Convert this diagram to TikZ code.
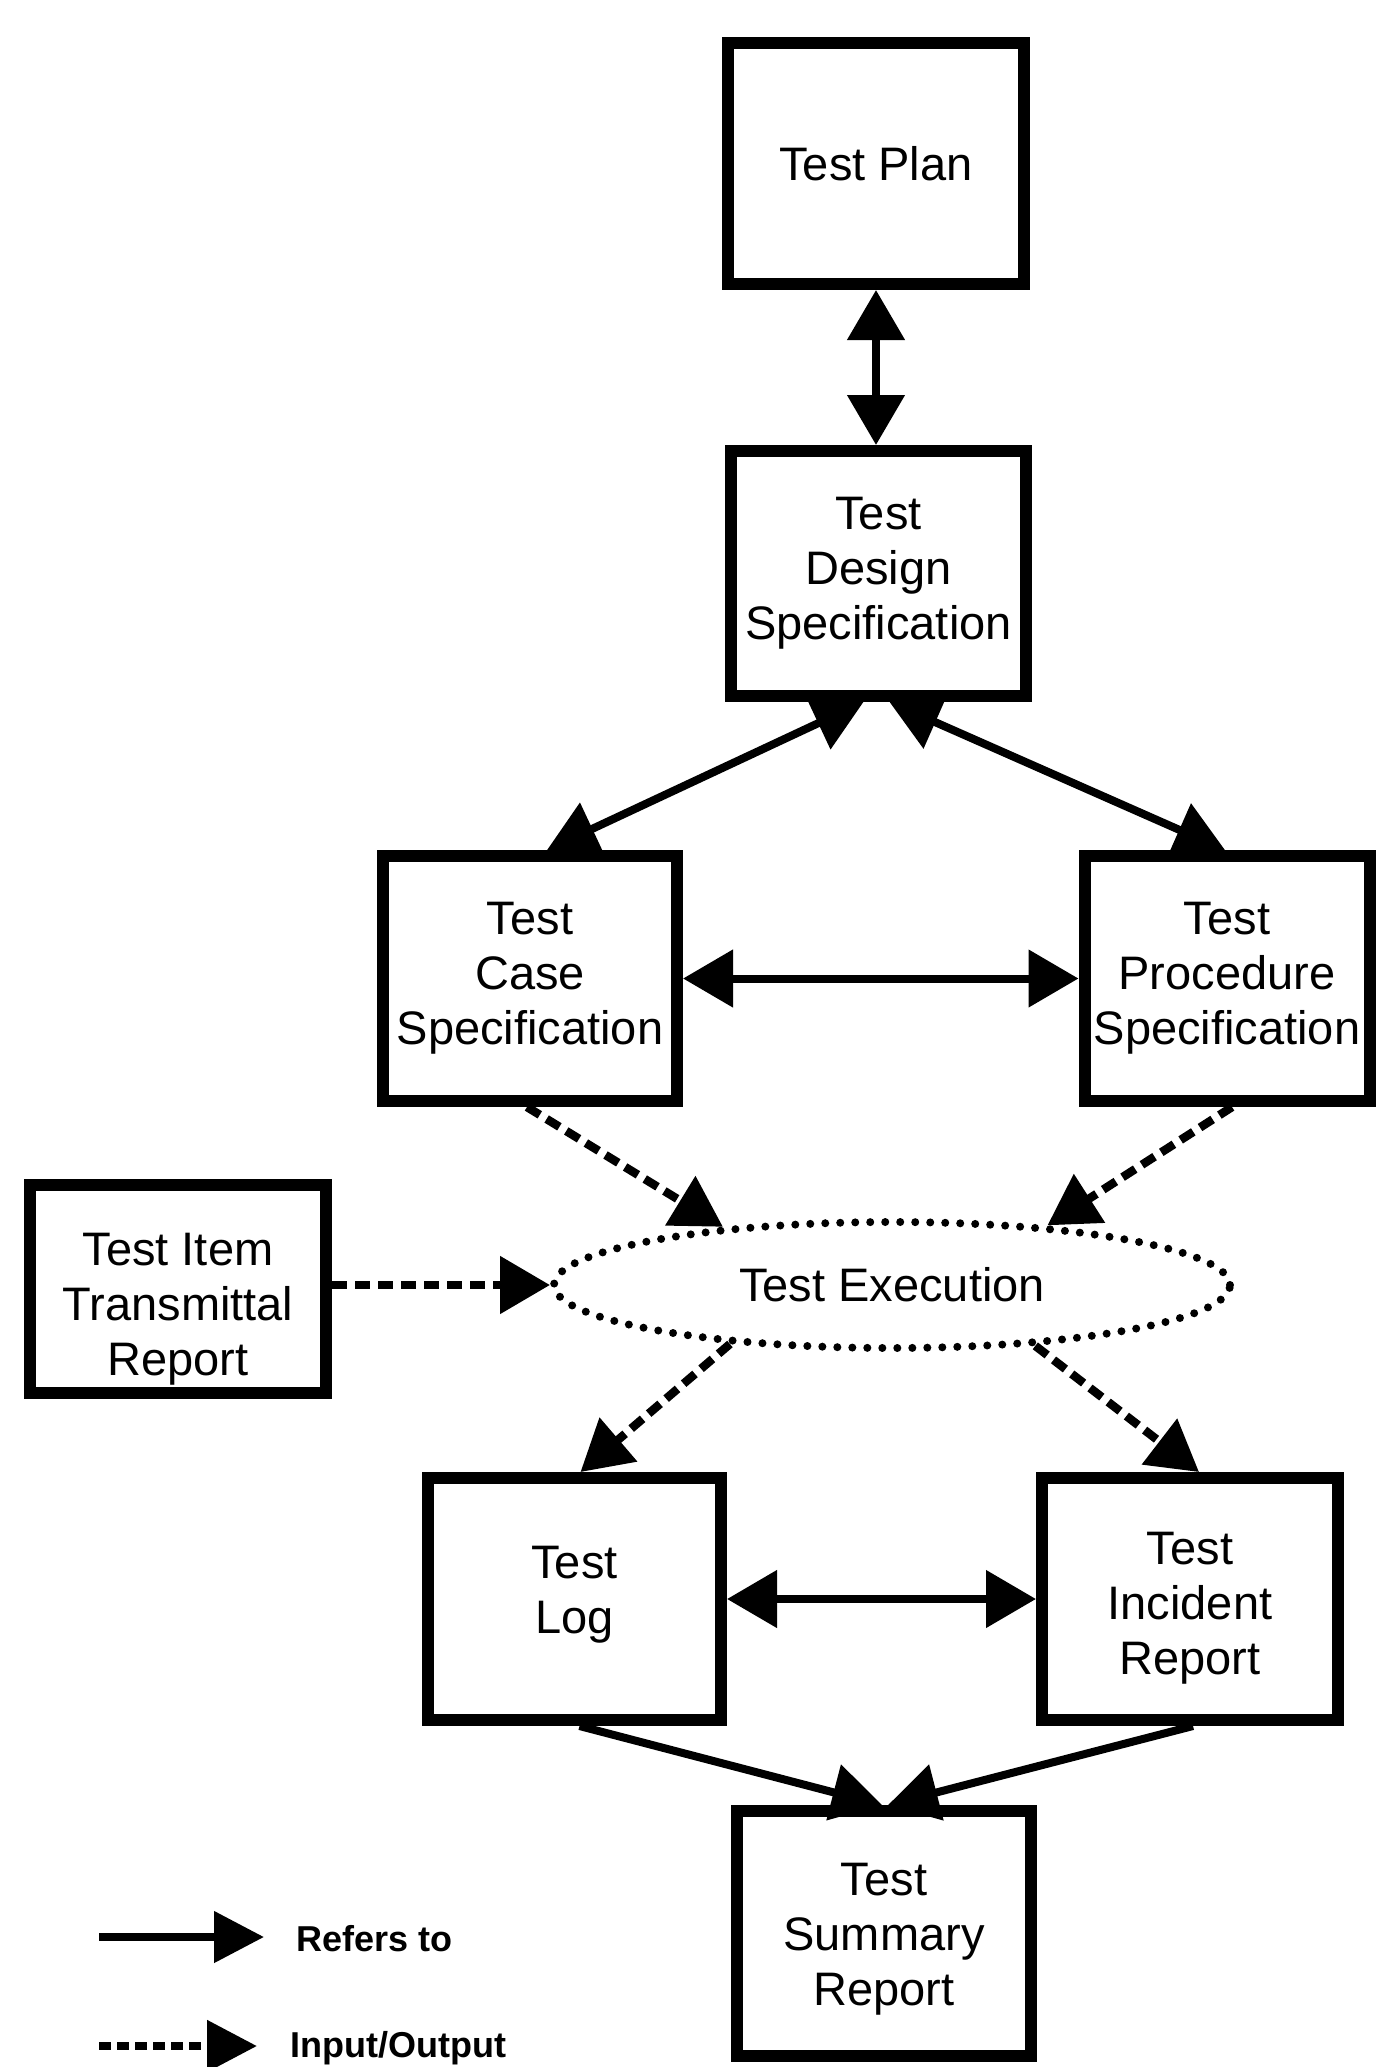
\documentclass[tikz,border=0pt]{standalone}
\usepackage{fontspec}
\setmainfont{Liberation Sans}
\usetikzlibrary{arrows.meta,shapes.geometric}
\begin{document}
\begin{tikzpicture}[x=1pt,y=-1pt,
  box/.style={draw, line width=12pt, rectangle, inner sep=0pt, align=center,
    font=\fontsize{47}{55}\selectfont},
  boxtext/.style={inner sep=0pt, align=center, font=\fontsize{47}{55}\selectfont},
  refer/.style={line width=8pt, -{Triangle[length=50pt,width=56pt]}},
  referboth/.style={line width=8pt, {Triangle[length=50pt,width=56pt]}-{Triangle[length=50pt,width=56pt]}},
  inout/.style={line width=8.5pt, dash pattern=on 15pt off 8pt, -{Triangle[length=50pt,width=56pt]}},
  legtext/.style={anchor=west, inner sep=0pt, font=\fontsize{36}{40}\selectfont\bfseries}
]
\useasboundingbox (0,0) rectangle (1377,2067);
\fill[white] (0,0) rectangle (1377,2067);

\node[box, minimum width=296pt, minimum height=241pt] (plan) at (876,163.5) {Test Plan};
\node[box, minimum width=295pt, minimum height=245pt] (design) at (878.5,573.5) {Test\\Design\\Specification};
\node[box, minimum width=294pt, minimum height=245pt] (case) at (530,978.5) {Test\\Case\\Specification};
\node[box, minimum width=285pt, minimum height=245pt] (proc) at (1227,978.5) {Test\\Procedure\\Specification};
\node[box, minimum width=296pt, minimum height=208pt] (titr) at (178,1289) {};
\node[boxtext] (titrt) at ([yshift=-20pt]titr.center) {Test Item\\Transmittal\\Report};
\node[draw, ellipse, line width=8pt, dash pattern=on 0pt off 15pt, line cap=round,
  minimum width=676pt, minimum height=126pt, inner sep=0pt,
  font=\fontsize{47}{55}\selectfont] (exec) at (892,1285) {Test Execution};
\node[box, minimum width=293pt, minimum height=242pt] (log) at (574.5,1599) {};
\node[boxtext] (logt) at ([yshift=4pt]log.center) {Test\\Log};
\node[box, minimum width=296pt, minimum height=242pt] (incident) at (1190,1599) {};
\node[boxtext] (incidentt) at ([yshift=-9pt]incident.center) {Test\\Incident\\Report};
\node[box, minimum width=294pt, minimum height=245pt] (summary) at (884,1933.5) {};
\node[boxtext] (summaryt) at ([yshift=-6pt]summary.center) {Test\\Summary\\Report};

% refers-to connectors
\draw[referboth] (plan.south) -- (plan.south |- design.north);
\draw[referboth] ([xshift=-15pt]design.south) -- ([xshift=17pt]case.north);
\draw[referboth] ([xshift=11pt]design.south) -- ([xshift=-2pt]proc.north);
\draw[referboth] (case.east) -- (proc.west);
\draw[referboth] (log.east) -- (incident.west);
\draw[refer] ([xshift=5pt]log.south) -- ([xshift=-2pt]summary.north);
\draw[refer] ([xshift=3pt]incident.south) -- ([xshift=4pt]summary.north);

% input/output connectors
\draw[inout] ([xshift=-3pt]case.south) -- (exec.161);
\draw[inout] ([xshift=5pt]proc.south) -- (exec.21);
\draw[inout] (titr.east |- exec.west) -- (exec.west);
\draw[inout] (exec.200) -- ([xshift=6pt]log.north);
\draw[inout] (exec.337) -- ([xshift=9pt]incident.north);

% legend
\coordinate (l1a) at (99,1937);
\coordinate (l1b) at (264,1937);
\coordinate (l2a) at (99,2046);
\coordinate (l2b) at (257,2046);
\draw[line width=8pt, -{Triangle[length=50pt,width=50pt]}] (l1a) -- (l1b);
\draw[line width=8.5pt, dash pattern=on 12pt off 6pt, -{Triangle[length=50pt,width=50pt]}] (l2a) -- (l2b);
\node[legtext] (lt1) at (296,1939) {Refers to};
\node[legtext] (lt2) at (290,2048) {Input/Output};
\end{tikzpicture}
\end{document}
